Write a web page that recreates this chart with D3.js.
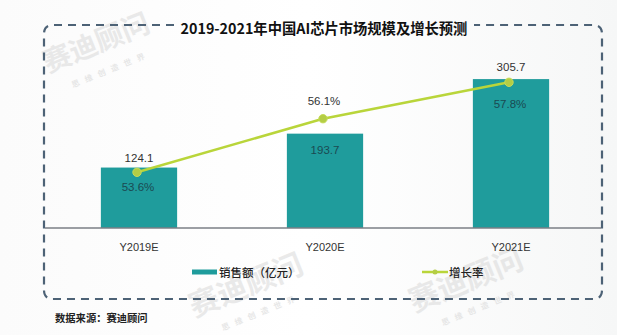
<!DOCTYPE html>
<html>
<head>
<meta charset="utf-8">
<script src="https://cdn.jsdelivr.net/npm/d3@7"></script>
<style>
  html, body { margin: 0; padding: 0; background: #fff; }
  svg { display: block; font-family: "Noto Sans CJK SC", "Noto Sans", sans-serif; }
</style>
</head>
<body>
<svg id="chart" width="617" height="335"></svg>
<script>
// Data
const categories = ["Y2019E", "Y2020E", "Y2021E"];
const sales = [124.1, 193.7, 305.7];          // 销售额（亿元）
const growth = [53.6, 56.1, 57.8];            // 增长率 (%)
const title = "2019-2021年中国AI芯片市场规模及增长预测";
const legendLabels = ["销售额（亿元）", "增长率"];
const sourceText = "数据来源：赛迪顾问";

const svg = d3.select("#chart");
const W = 617, H = 335;

const barColor = "#1f9c9c";
const lineColor = "#b9d53a";
const frameColor = "#4d6276";

// light background wash
const defs = svg.append("defs");
const bg = defs.append("linearGradient").attr("id", "bg").attr("x1", 0).attr("x2", 1).attr("y1", 0).attr("y2", 0);
bg.append("stop").attr("offset", 0).attr("stop-color", "#fbfbfb");
bg.append("stop").attr("offset", 0.5).attr("stop-color", "#ffffff");
bg.append("stop").attr("offset", 1).attr("stop-color", "#f6f7f7");
svg.append("rect").attr("width", W).attr("height", H).attr("fill", "url(#bg)");

// watermark text
const wm = svg.append("g").attr("fill", "#d9d9d9").attr("font-family", "Noto Sans CJK SC").attr("font-weight", 700);
[[100, 52, 28], [250, 295, 30], [470, 290, 30]].forEach(([x, y, s]) => {
  wm.append("text").attr("transform", `translate(${x},${y}) rotate(-22)`)
    .attr("font-size", s).attr("text-anchor", "middle").attr("opacity", 0.55).text("赛迪顾问");
  wm.append("text").attr("transform", `translate(${x + 12},${y + 20}) rotate(-22)`)
    .attr("font-size", 8).attr("text-anchor", "middle").attr("letter-spacing", 6).attr("opacity", 0.6).text("思维创造世界");
});

// Scales
const x = d3.scaleBand().domain(categories).range([46, 604]).paddingInner(0.59).paddingOuter(0.295);
const yBar = d3.scaleLinear().domain([0, 310]).range([228, 77]);
const yLine = d3.scaleLinear().domain([51, 58]).range([228, 78]);

// Dashed rounded frame, broken at the title
const fx0 = 44, fy0 = 25, fx1 = 602, fy1 = 299, r = 9;
const gapL = 174, gapR = 474;
const framePath = d3.path();
framePath.moveTo(gapL, fy0);
framePath.lineTo(fx0 + r, fy0);
framePath.quadraticCurveTo(fx0, fy0, fx0, fy0 + r);
framePath.lineTo(fx0, fy1 - r);
framePath.quadraticCurveTo(fx0, fy1, fx0 + r, fy1);
framePath.lineTo(fx1 - r, fy1);
framePath.quadraticCurveTo(fx1, fy1, fx1, fy1 - r);
framePath.lineTo(fx1, fy0 + r);
framePath.quadraticCurveTo(fx1, fy0, fx1 - r, fy0);
framePath.lineTo(gapR, fy0);
svg.append("path").attr("d", framePath.toString())
  .attr("fill", "none").attr("stroke", frameColor).attr("stroke-width", 2.2)
  .attr("stroke-dasharray", "8,6");

// Title
svg.append("text").attr("x", 324).attr("y", 34).attr("text-anchor", "middle")
  .attr("font-size", 14.3).attr("font-weight", 700).attr("fill", "#111")
  .text(title);

// Bars
svg.append("g").selectAll("rect").data(sales).join("rect")
  .attr("x", (d, i) => x(categories[i]))
  .attr("y", d => yBar(d))
  .attr("width", x.bandwidth())
  .attr("height", d => yBar(0) - yBar(d))
  .attr("fill", barColor);

// Category axis
const xAxis = svg.append("g").attr("transform", `translate(0,${yBar(0)})`)
  .call(d3.axisBottom(x).tickSize(0).tickPadding(15));
xAxis.select(".domain").attr("d", "M45,0H601").attr("stroke", "#7b7f86").attr("stroke-width", 1.5);
xAxis.selectAll("text").attr("font-size", 11).attr("fill", "#333")
  .attr("font-family", "Liberation Sans, Arial, sans-serif");

// Growth line
const cx = (d, i) => x(categories[i]) + x.bandwidth() / 2 - 2;
const line = d3.line().x(cx).y(d => yLine(d));
svg.append("path").datum(growth).attr("d", line)
  .attr("fill", "none").attr("stroke", lineColor).attr("stroke-width", 2.5);
svg.append("g").selectAll("circle").data(growth).join("circle")
  .attr("cx", cx).attr("cy", d => yLine(d)).attr("r", 4.2)
  .attr("fill", "#b4cd45").attr("stroke", "#c6dc5a").attr("stroke-width", 1);

// Value labels
const lbl = svg.append("g").attr("font-size", 11.5).attr("text-anchor", "middle")
  .attr("font-family", "Liberation Sans, Arial, sans-serif");
// sales
const salesLabelY = [yBar(sales[0]) - 6, yBar(sales[1]) + 20, yBar(sales[2]) - 8];
const salesLabelFill = ["#333", "#1b4a52", "#333"];
lbl.selectAll(".s").data(sales).join("text").attr("class", "s")
  .attr("x", (d, i) => x(categories[i]) + x.bandwidth() / 2)
  .attr("y", (d, i) => salesLabelY[i])
  .attr("fill", (d, i) => salesLabelFill[i])
  .text(d => d.toFixed(1));
// growth
const growthLabelY = [yLine(growth[0]) + 19, yLine(growth[1]) - 14, yLine(growth[2]) + 26];
const growthLabelFill = ["#1b4a52", "#333", "#1b4a52"];
lbl.selectAll(".g").data(growth).join("text").attr("class", "g")
  .attr("x", (d, i) => x(categories[i]) + x.bandwidth() / 2 - 1)
  .attr("y", (d, i) => growthLabelY[i])
  .attr("fill", (d, i) => growthLabelFill[i])
  .text(d => d.toFixed(1) + "%");

// Legend
const leg = svg.append("g");
leg.append("rect").attr("x", 192).attr("y", 269.5).attr("width", 25).attr("height", 5).attr("fill", barColor);
leg.append("text").attr("x", 219).attr("y", 277).attr("font-size", 11.5).attr("fill", "#222")
  .attr("font-weight", 500).text(legendLabels[0]);
leg.append("line").attr("x1", 422).attr("x2", 448).attr("y1", 272).attr("y2", 272)
  .attr("stroke", lineColor).attr("stroke-width", 2.5);
leg.append("circle").attr("cx", 435).attr("cy", 272).attr("r", 2.5).attr("fill", "#b4cd45");
leg.append("text").attr("x", 449).attr("y", 277).attr("font-size", 11.5).attr("fill", "#222")
  .attr("font-weight", 500).text(legendLabels[1]);

// Source note
svg.append("text").attr("x", 55).attr("y", 322).attr("font-size", 10.3).attr("fill", "#222")
  .attr("font-weight", 700).text(sourceText);
</script>
</body>
</html>
